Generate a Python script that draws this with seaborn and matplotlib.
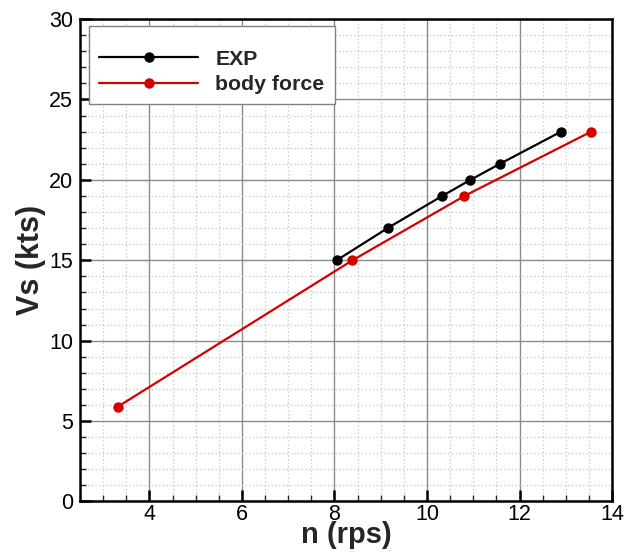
import matplotlib
matplotlib.use("Agg")
import matplotlib.pyplot as plt
from matplotlib.ticker import MultipleLocator
import seaborn as sns
import pandas as pd

# Measured ship speed vs propeller rate
exp_n = [8.05, 9.15, 10.33, 10.94, 11.58, 12.90]
exp_vs = [15.0, 17.0, 19.0, 20.0, 21.0, 23.0]

# Body-force propeller model predictions
bf_n = [3.32, 8.39, 10.81, 13.55]
bf_vs = [5.9, 15.0, 19.0, 23.0]

series_names = ["EXP", "body force"]
series_colors = ["#000000", "#d40000"]

x_ticks = [4, 6, 8, 10, 12, 14]
y_ticks = [0, 5, 10, 15, 20, 25, 30]

sns.set_theme(style="white")
plt.rcParams["font.family"] = ["Liberation Sans", "DejaVu Sans"]

df = pd.concat([
    pd.DataFrame({"n": exp_n, "Vs": exp_vs, "series": series_names[0]}),
    pd.DataFrame({"n": bf_n, "Vs": bf_vs, "series": series_names[1]}),
], ignore_index=True)

fig = plt.figure(figsize=(6.32, 5.52), dpi=100)
ax = fig.add_axes([0.1266, 0.0915, 0.8418, 0.874])

sns.lineplot(data=df, x="n", y="Vs", hue="series", hue_order=series_names,
             palette=series_colors, marker="o", markersize=7.5,
             markeredgewidth=0, linewidth=1.6, sort=False, ax=ax)

ax.set_xlim(2.5, 14)
ax.set_ylim(0, 30)
ax.set_xticks(x_ticks)
ax.set_yticks(y_ticks)
ax.xaxis.set_minor_locator(MultipleLocator(0.5))
ax.yaxis.set_minor_locator(MultipleLocator(1))

ax.grid(which="major", color="#8c8c8c", linewidth=1.0, linestyle="-")
ax.grid(which="minor", color="#c4c4c4", linewidth=0.9, linestyle=(0, (1, 2)))
ax.set_axisbelow(True)

for sp in ax.spines.values():
    sp.set_color("black")
    sp.set_linewidth(1.8)

ax.tick_params(which="major", direction="in", length=8, width=1.8,
               labelsize=15.5, colors="black", bottom=True, left=True,
               top=False, right=False)
ax.tick_params(axis="x", which="major", pad=2)
ax.tick_params(axis="y", which="major", pad=5)
ax.tick_params(which="minor", direction="in", length=4, width=1.0,
               bottom=True, left=True, top=False, right=False)

ax.set_xlabel("n (rps)", fontsize=21, fontweight="bold", labelpad=-3)
ax.set_ylabel("Vs (kts)", fontsize=22, fontweight="bold", labelpad=2)

# a tiny blank title gives the legend extra room above the entries
leg = ax.legend(loc="upper left", bbox_to_anchor=(0.017, 0.986),
                fontsize=15.3, title=" ", title_fontsize=5.5,
                handlelength=4.64, handletextpad=0.81,
                borderpad=0.49, labelspacing=0.3, frameon=True,
                fancybox=False, borderaxespad=0)
leg.get_frame().set_edgecolor("#808080")
leg.get_frame().set_linewidth(1.0)
leg.get_frame().set_facecolor("white")
leg.get_frame().set_alpha(1.0)
for t in leg.get_texts():
    t.set_fontweight("bold")

fig.savefig("out.png", dpi=100)
